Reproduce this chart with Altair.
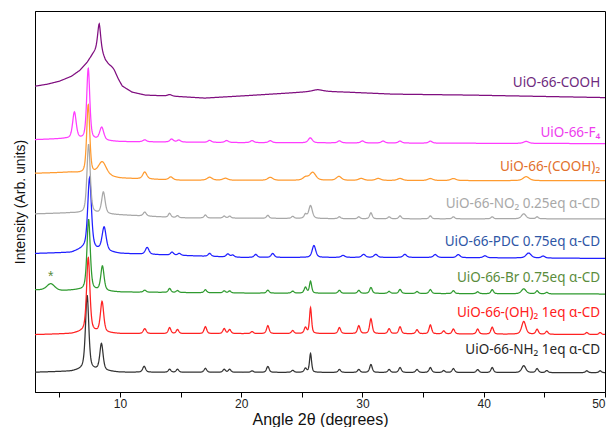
import altair as alt
import numpy as np
import pandas as pd

alt.data_transformers.disable_max_rows()

# ---------------- data ----------------
samples = [
    "UiO-66-NH₂ 1eq α-CD",
    "UiO-66-(OH)₂ 1eq α-CD",
    "UiO-66-Br 0.75eq α-CD",
    "UiO-66-PDC 0.75eq α-CD",
    "UiO-66-NO₂ 0.25eq α-CD",
    "UiO-66-(COOH)₂",
    "UiO-66-F₄",
    "UiO-66-COOH",
]
trace_colors = ["#333333", "#ff2222", "#2f9a2f", "#1f1fff", "#a8a8a8", "#ff9b30", "#ff3cff", "#800f80"]
label_colors = ["#262626", "#ff2020", "#5a8c3c", "#2e56a6", "#a8a8a8", "#e2702c", "#ee3cee", "#6e2a7e"]

# baseline knots (angle, intensity)
base_x = {
    0: [3, 6, 7, 10, 50],
    1: [3, 6, 7, 10, 30, 50],
    2: [3, 5, 6.5, 10, 20, 50],
    3: [3, 6, 7, 10, 20, 35, 50],
    4: [3, 6, 10, 15, 30, 50],
    5: [3, 6, 10, 15, 50],
    6: [3, 5.5, 10, 20, 50],
    7: [3, 4, 5, 6, 6.7, 7.3, 7.8, 8.3, 8.8, 9.3, 9.8, 10.2, 11, 12.1, 14.2, 17, 20.5, 23.8, 26.3, 28.7, 32.5, 39, 50],
}
base_y = {
    0: [20, 21, 23, 20, 19.5],
    1: [58, 59, 61, 59, 59, 58],
    2: [103, 102, 103, 101, 100, 99],
    3: [140, 141, 145, 140, 136, 136, 135],
    4: [180, 181, 179, 176, 175, 175],
    5: [221, 222, 216, 214, 213.5],
    6: [255, 256, 253, 252, 251],
    7: [309, 311, 314, 319, 325, 333, 342, 349, 335, 327, 317, 309, 303, 300, 299, 297, 299.5, 302, 304, 303, 301, 300, 297.5],
}

# peaks: position (deg), height, FWHM (deg)
peak_pos = {
    0: [7.30, 8.48, 12.0, 14.1, 14.75, 17.05, 18.6, 19.05, 20.9, 22.2, 24.25, 25.3, 25.72, 28.1, 29.7, 30.7, 32.2, 33.1, 34.5, 35.6, 36.7, 37.5, 39.5, 40.7, 43.3, 44.4, 45.2, 48.5, 49.6],
    1: [7.39, 8.53, 12.05, 14.1, 14.75, 17.05, 18.6, 19.05, 20.9, 22.2, 24.25, 25.3, 25.72, 28.1, 29.7, 30.7, 32.2, 33.1, 34.5, 35.6, 36.7, 37.5, 39.5, 40.7, 43.3, 44.4, 45.2, 48.5, 49.6],
    2: [4.3, 7.42, 8.56, 12.05, 14.1, 14.75, 17.05, 18.6, 19.05, 22.2, 24.25, 25.3, 25.72, 28.1, 29.7, 30.7, 32.2, 33.1, 34.5, 35.6, 37.5, 39.5, 40.7, 43.3, 44.4, 45.2],
    3: [7.5, 8.7, 12.25, 14.3, 14.9, 17.4, 18.9, 19.3, 21.2, 22.6, 26.0, 28.4, 30.1, 31.1, 33.5, 36.0, 37.9, 40.1, 43.7, 44.9],
    4: [7.42, 8.64, 12.05, 14.1, 14.75, 17.05, 18.6, 19.05, 22.2, 24.25, 25.3, 25.72, 28.1, 29.7, 30.7, 32.2, 33.1, 35.6, 37.5, 40.7, 43.3, 44.4],
    5: [7.39, 8.55, 12.05, 14.2, 17.4, 18.7, 22.4, 25.3, 25.9, 28.06, 29.9, 31.3, 33.1, 35.6, 37.5, 43.5],
    6: [6.25, 7.39, 8.5, 12.05, 14.27, 14.86, 17.4, 18.8, 20.9, 22.4, 25.7, 28.1, 30.0, 31.7, 33.1, 35.6, 43.5],
    7: [8.29, 9.5, 14.1, 26.3],
}
peak_h = {
    0: [75, 27, 6, 3, 3, 4, 3, 3, 1.5, 6, 2, 4, 19, 3, 3, 8, 3, 5, 3, 5, 2, 4, 3, 5, 7, 4, 2, 2, 2],
    1: [75, 31, 5, 6, 4, 7, 5, 4, 2, 8, 3, 6, 26, 6, 8, 15, 5, 7, 4, 9, 3, 5, 5, 7, 13, 5, 3, 2, 2],
    2: [7, 72, 25, 2, 4, 2, 3, 2, 2, 3, 2, 6, 12, 3, 3, 6, 2, 4, 2, 4, 3, 2, 4, 5, 3, 1.5],
    3: [72, 24, 7, 3, 2, 3, 3, 2, 3, 4, 12, 2, 3, 3, 3, 3, 3, 2, 5, 2],
    4: [70, 22, 4, 4, 2, 3, 2, 2, 3, 2, 4, 13, 2, 2, 6, 2, 3, 3, 2, 2, 5, 2],
    5: [70, 14, 7, 3, 3, 2, 3, 3, 8, 4, 2, 2, 2, 2, 2, 4],
    6: [27, 72, 13, 2, 3, 2, 2, 2, 2, 2, 5, 2, 2, 2, 2, 2, 2],
    7: [23, 3, 1.5, 1.5],
}
peak_w = {
    0: [0.32, 0.32, 0.28] + [0.25] * 9 + [0.2] + [0.25] * 11 + [0.4] + [0.25] * 4,
    1: [0.32, 0.32, 0.28] + [0.25] * 9 + [0.2] + [0.25] * 11 + [0.4] + [0.25] * 4,
    2: [0.8, 0.32, 0.32, 0.28] + [0.25] * 8 + [0.22] + [0.25] * 10 + [0.45, 0.25, 0.25],
    3: [0.36, 0.4, 0.35] + [0.3] * 7 + [0.35] + [0.35] * 7 + [0.5, 0.35],
    4: [0.32, 0.34, 0.3] + [0.25] * 8 + [0.35] + [0.25] * 8 + [0.45, 0.25],
    5: [0.3, 0.8, 0.4, 0.4, 0.5, 0.5, 0.5, 0.5, 0.6, 0.5, 0.5, 0.5, 0.5, 0.5, 0.5, 0.6],
    6: [0.35, 0.3, 0.4] + [0.35] * 7 + [0.4] + [0.35] * 5 + [0.5],
    7: [0.3, 0.5, 0.4, 1.0],
}
label_level = [42, 80, 115, 152, 190, 227, 262, 312]

x_ticks = [5, 10, 15, 20, 25, 30, 35, 40, 45, 50]
x_range = [3, 50]
y_range = [0, 385]
LABEL_X = 49.6

# ---------------- build curves ----------------
grid = np.round(np.arange(3.0, 50.0001, 0.025), 3)


def curve(i):
    y = np.interp(grid, base_x[i], base_y[i]).astype(float)
    for c, h, w in zip(peak_pos[i], peak_h[i], peak_w[i]):
        d = (grid - c) / w
        y += h * (0.5 / (1 + 4 * d * d) + 0.5 * np.exp(-4 * np.log(2) * d * d))
    return y


frames = []
for i, name in enumerate(samples):
    frames.append(pd.DataFrame({
        "angle": grid,
        "intensity": np.round(curve(i), 2),
        "sample": name,
        "order": i,
        "col": trace_colors[i],
    }))
df = pd.concat(frames, ignore_index=True)

labels_df = pd.DataFrame({
    "sample": samples,
    "angle": LABEL_X,
    "intensity": label_level,
    "col": label_colors,
})

# asterisk above the green 4.3 deg bump
star_x = peak_pos[2][0]
star_y = float(np.interp(star_x, grid, curve(2))) + 7
star_df = pd.DataFrame({"angle": [star_x], "intensity": [star_y], "t": ["*"]})

x_enc = alt.X(
    "angle:Q",
    scale=alt.Scale(domain=x_range, nice=False, zero=False),
    axis=alt.Axis(
        values=x_ticks,
        labelExpr="datum.value % 10 === 0 ? datum.label : ''",
        grid=False, tickSize=5, tickColor="black", domainColor="black",
        labelFont="Liberation Sans", labelFontSize=12, labelColor="#222",
        labelFlush=True, labelPadding=1,
        titleFont="Liberation Sans", titleFontSize=16, titleFontWeight="normal",
        titleColor="#111", titlePadding=2,
    ),
    title="Angle 2θ (degrees)",
)
y_enc = alt.Y(
    "intensity:Q",
    scale=alt.Scale(domain=y_range, nice=False, zero=False),
    axis=alt.Axis(
        labels=False, ticks=False, grid=False, domainColor="black",
        titleFont="Liberation Sans", titleFontSize=14, titleFontWeight="normal",
        titleColor="#111", titlePadding=8,
    ),
    title="Intensity (Arb. units)",
)

lines = alt.Chart(df).mark_line(strokeWidth=1.25, clip=True).encode(
    x=x_enc,
    y=y_enc,
    detail="sample:N",
    color=alt.Color("col:N", scale=None),
    order="angle:Q",
)

texts = alt.Chart(labels_df).mark_text(
    align="right", baseline="middle", font="Noto Sans", fontSize=13.5
).encode(
    x="angle:Q", y="intensity:Q", text="sample:N",
    color=alt.Color("col:N", scale=None),
)

star = alt.Chart(star_df).mark_text(
    align="center", baseline="middle", font="Liberation Sans", fontSize=14, color=label_colors[2]
).encode(x="angle:Q", y="intensity:Q", text="t:N")

chart = alt.layer(lines, texts, star).properties(
    width=570, height=381,
    padding={"left": 5, "top": 3, "right": 0, "bottom": 0},
).configure_view(stroke="black", strokeWidth=1)

chart.save("out.html", embed_options={"renderer": "svg", "actions": False})
